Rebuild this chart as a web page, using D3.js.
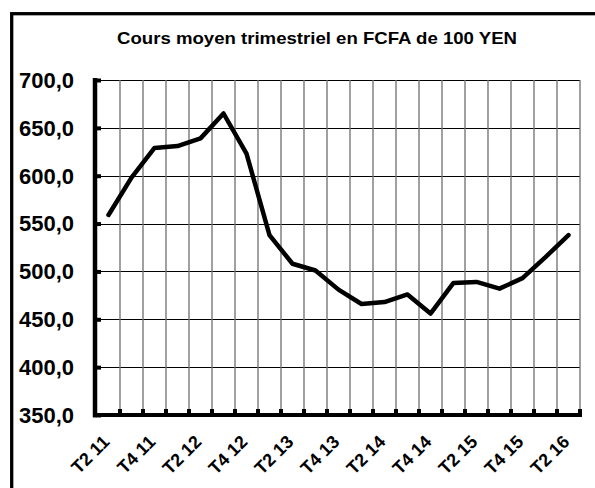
<!DOCTYPE html>
<html>
<head>
  <meta charset="utf-8">
  <title>Cours moyen trimestriel</title>
  <script src="https://d3js.org/d3.v7.min.js"></script>
  <style>
    body { margin: 0; background: #fff; }
    svg { display: block; font-family: "Liberation Sans", Arial, sans-serif; }
  </style>
</head>
<body>
<script>
  // quarters from T2 2011 to T2 2016
  const quarters = ["T2 11", "T3 11", "T4 11", "T1 12", "T2 12", "T3 12", "T4 12",
    "T1 13", "T2 13", "T3 13", "T4 13", "T1 14", "T2 14", "T3 14", "T4 14",
    "T1 15", "T2 15", "T3 15", "T4 15", "T1 16", "T2 16"];
  // cours moyen en FCFA de 100 YEN
  const cours = [559, 598, 629, 631, 639, 665, 623, 538, 508, 501, 481, 466, 468,
    476, 456, 488, 489, 482, 493, 515, 538];
  const yTicks = [350, 400, 450, 500, 550, 600, 650, 700];
  const titre = "Cours moyen trimestriel en FCFA de 100 YEN";

  const W = 595, H = 488;
  const margin = {top: 80, right: 15, bottom: 73, left: 97};

  const svg = d3.select("body").append("svg")
    .attr("width", W)
    .attr("height", H);

  // outer frame
  svg.append("rect")
    .attr("x", 11.7).attr("y", 13.7)
    .attr("width", 700).attr("height", 600)
    .attr("fill", "none")
    .attr("stroke", "#000")
    .attr("stroke-width", 3.3);

  svg.append("text")
    .attr("x", 317)
    .attr("y", 44)
    .attr("text-anchor", "middle")
    .attr("textLength", 400)
    .attr("lengthAdjust", "spacingAndGlyphs")
    .style("font-weight", "bold")
    .style("font-size", "17px")
    .text(titre);

  var x = d3.scaleBand()
    .domain(quarters)
    .range([margin.left, W - margin.right]);

  var y = d3.scaleLinear()
    .domain([350, 700])
    .range([H - margin.bottom, margin.top]);

  const x0 = margin.left, x1 = W - margin.right,
        yb = H - margin.bottom, yt = margin.top;

  // horizontal grid
  svg.append("g")
    .selectAll("line")
    .data(yTicks.slice(1))
    .join("line")
      .attr("x1", x0).attr("x2", x1)
      .attr("y1", d => Math.round(y(d)) + 0.5)
      .attr("y2", d => Math.round(y(d)) + 0.5)
      .attr("stroke", "#000")
      .attr("stroke-width", 1);

  // vertical grid at quarter boundaries
  const bounds = quarters.slice(1).map(q => x(q)).concat([x1]);
  svg.append("g")
    .selectAll("line")
    .data(bounds)
    .join("line")
      .attr("x1", d => d).attr("x2", d => d)
      .attr("y1", yt).attr("y2", yb)
      .attr("stroke", "#6e6e6e")
      .attr("stroke-width", 1.3);

  // y axis
  const yAxis = g => g
    .attr("transform", `translate(${x0 - 2},0)`)
    .call(d3.axisRight(y).tickValues(yTicks).tickSize(6).tickFormat(() => ""))
    .call(g => g.select(".domain").remove())
    .call(g => g.selectAll(".tick line").attr("stroke", "#000").attr("stroke-width", 4)
      .attr("x1", -2));
  svg.append("g").call(yAxis);

  svg.append("line")
    .attr("x1", x0 - 2).attr("x2", x0 - 2)
    .attr("y1", yt - 2).attr("y2", yb + 2)
    .attr("stroke", "#000").attr("stroke-width", 4.5);

  svg.append("g")
    .selectAll("text")
    .data(yTicks)
    .join("text")
      .attr("x", 74)
      .attr("y", d => y(d))
      .attr("dy", "0.36em")
      .attr("text-anchor", "end")
      .style("font-weight", "bold")
      .style("font-size", "22px")
      .text(d => d3.format(".1f")(d).replace(".", ","));

  // x axis
  svg.append("line")
    .attr("x1", x0 - 4).attr("x2", x1 + 2)
    .attr("y1", yb).attr("y2", yb)
    .attr("stroke", "#000").attr("stroke-width", 4);

  svg.append("g")
    .selectAll("line")
    .data(bounds)
    .join("line")
      .attr("x1", d => d).attr("x2", d => d)
      .attr("y1", yb).attr("y2", yb - 6)
      .attr("stroke", "#000").attr("stroke-width", 4);

  svg.append("g")
    .selectAll("text")
    .data(quarters.filter((q, i) => i % 2 == 0))
    .join("text")
      .attr("text-anchor", "end")
      .attr("transform", d => `translate(${x(d) + x.bandwidth() / 2 + 2},443) rotate(-45)`)
      .style("font-weight", "bold")
      .style("font-size", "18px")
      .text(d => d);

  // series
  const line = d3.line()
    .x((d, i) => x(quarters[i]) + x.bandwidth() / 2)
    .y(d => y(d));

  svg.append("path")
    .datum(cours)
    .attr("d", line)
    .attr("fill", "none")
    .attr("stroke", "#000")
    .attr("stroke-width", 4.5)
    .attr("stroke-linejoin", "round")
    .attr("stroke-linecap", "round");
</script>
</body>
</html>
